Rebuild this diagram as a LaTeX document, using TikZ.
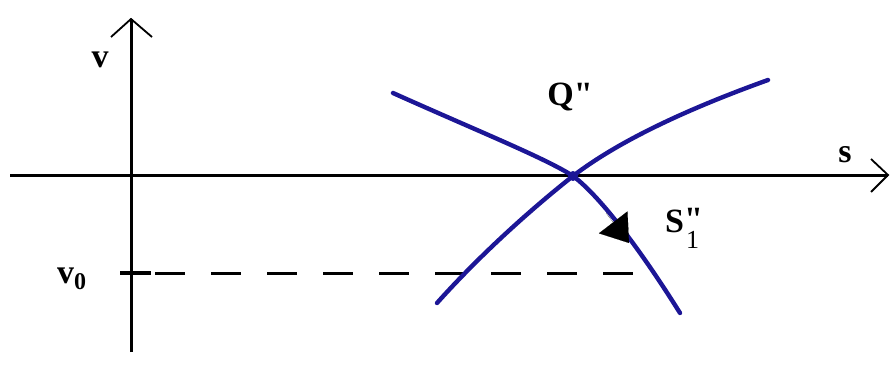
\documentclass[tikz,border=0pt]{standalone}
\usepackage{fontspec}
\setmainfont{Liberation Serif}[Ligatures=TeXOff]
\usetikzlibrary{arrows.meta}
\definecolor{curveblue}{RGB}{28,22,150}
\tikzset{
  axis/.style={line width=3pt, black},
  openhead/.style={line width=1.8pt, black},
  curve/.style={line width=4.4pt, curveblue, line cap=round},
  lbl/.style={font=\fontsize{34}{36}\selectfont\bfseries, inner sep=0pt}
}
\newcommand{\dq}{\char"22}
\begin{document}
\begin{tikzpicture}[x=1pt,y=-1pt]
\useasboundingbox (0,0) rectangle (890,367);
% axes
\coordinate (vtop) at (131,19);
\coordinate (vbot) at (131,352);
\coordinate (sleft) at (10,175);
\coordinate (sright) at (888,175);
\draw[axis] (vbot) -- (vtop);
\draw[axis] (sleft) -- (sright);
\draw[openhead] (111,37) -- (vtop) -- (152,37);
\draw[openhead] (871,159) -- (sright) -- (871,192);
% v0 tick and dashed line
\coordinate (tickL) at (120,273);
\coordinate (tickR) at (151,273);
\coordinate (dashR) at (648,273);
\draw[line width=4.5pt] (tickL) -- (tickR);
\draw[line width=3pt, dash pattern=on 30pt off 26pt] (tickR) ++(4,0) -- (dashR);
% curves
\coordinate (Q) at (573,176);
\draw[curve] (393,93) .. controls (480,132) and (545,158) .. (Q) .. controls (605,200) and (650,265) .. (680,313);
\draw[curve] (437,303) .. controls (480,255) and (530,210) .. (Q) .. controls (620,140) and (690,108) .. (768,80);
\fill[curveblue] (Q) circle (5pt);
% arrow on curve
\coordinate (arrS) at (606,213);
\coordinate (arrE) at (629,243);
\draw[line width=0.1pt, -{Triangle[length=26pt,width=36pt]}] (arrS) -- (arrE);
% labels
\node[lbl] (vlab) at (100,60) {v};
\node[lbl, anchor=base west] (v0lab) at (57,283) {v\raisebox{-6pt}{\fontsize{24}{24}\selectfont\bfseries 0}};
\node[lbl] (Qlab) at (570,97) {Q\dq};
\node[lbl, anchor=base west] (Slab) at (665,232) {S\rlap{\raisebox{2pt}{\dq}}\raisebox{-16pt}{\hspace{2pt}\fontsize{26}{26}\selectfont\mdseries 1}};
\node[lbl] (slab) at (845,155) {s};
\end{tikzpicture}
\end{document}
